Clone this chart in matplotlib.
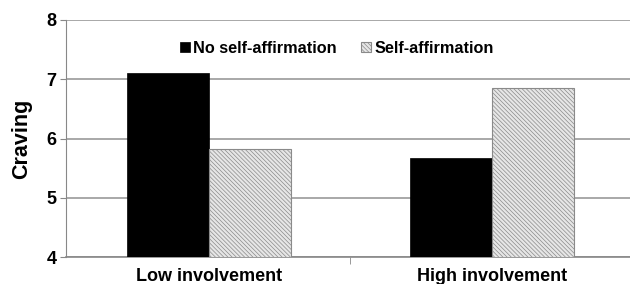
import numpy as np
import matplotlib.pyplot as plt

plt.rcParams['font.family'] = ['Liberation Sans', 'DejaVu Sans']
plt.rcParams['font.weight'] = 'bold'
plt.rcParams['hatch.linewidth'] = 0.5

categories = ['Low involvement', 'High involvement']
no_affirm = [7.1, 5.67]
affirm = [5.83, 6.85]

fig = plt.figure(figsize=(6.3, 2.84), dpi=100)
ax = fig.add_axes([66 / 630, 1 - 257 / 284, 564 / 630, 237 / 284])

x = np.arange(len(categories))
w = 0.29
ax.bar(x - w / 2, no_affirm, w, color='black', edgecolor='black', linewidth=0.5,
       label='No self-affirmation', zorder=3)
ax.bar(x + w / 2, affirm, w, color='#e6e6e6', edgecolor='#8a8a8a', hatch='\\\\\\\\\\\\\\\\',
       linewidth=0.8, label='Self-affirmation', zorder=3)

ax.set_ylim(4, 8)
ax.set_xlim(-0.505, 1.488)
ax.set_yticks([4, 5, 6, 7, 8])
ax.yaxis.grid(True, color='#999999', linewidth=1.2, zorder=0)
ax.set_xticks([0.5], minor=True)
ax.set_xticks(x)
ax.set_xticklabels(categories, fontsize=13, fontweight='bold')
ax.tick_params(axis='x', which='major', length=0, pad=8)
ax.tick_params(axis='x', which='minor', length=5, color='#888888')
ax.tick_params(axis='y', labelsize=13, length=4, color='#888888', pad=3)
for lab in ax.get_yticklabels():
    lab.set_fontweight('bold')

for s in ['top', 'right']:
    ax.spines[s].set_visible(False)
ax.spines['left'].set_color('#888888')
ax.spines['bottom'].set_color('#888888')
ax.spines['bottom'].set_linewidth(1.2)

ax.set_ylabel('Craving', fontsize=15.5, fontweight='bold', labelpad=10)

leg = ax.legend(loc='upper left', bbox_to_anchor=(0.177, 0.975), ncol=2, frameon=False,
                handlelength=0.6, handleheight=0.6, handletextpad=0.2,
                columnspacing=1.5, prop={'weight': 'bold', 'size': 11.7})

fig.savefig('out.png', dpi=100)
